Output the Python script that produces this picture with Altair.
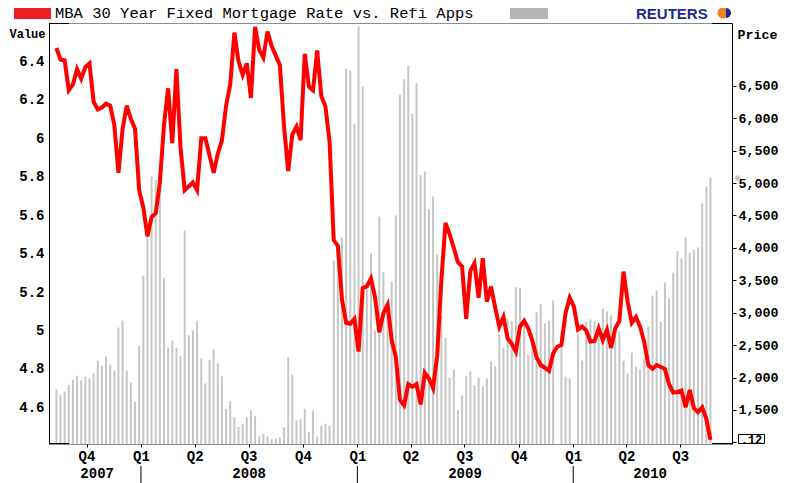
import altair as alt
import pandas as pd

# ---------------- data ----------------
first_week = "2007-08-11"

refi_apps = [
    1819, 1736, 1783, 1886, 1968, 2029, 1958, 2014, 1984, 2060,
    2261, 2184, 2323, 2199, 2106, 2770, 2878, 2106, 1921, 1628,
    2492, 3572, 4200, 5100, 5049, 4900, 3541, 2461, 2569, 2461,
    2338, 4266, 2652, 2724, 2878, 2292, 1911, 2276, 2430, 2220,
    2020, 1515, 1634, 1387, 1238, 1279, 1387, 1500, 1402, 1094,
    1134, 1094, 1048, 1057, 1078, 1233, 2307, 2045, 1341, 1356,
    1520, 1161, 1489, 1089, 1258, 1289, 1258, 3804, 4050, 4159,
    6767, 6736, 5908, 7415, 6489, 3430, 3918, 2724, 4483, 3624,
    3100, 3480, 4498, 6366, 6602, 6813, 6072, 6540, 5121, 5177,
    4596, 4792, 3902, 2955, 2616, 1999, 2127, 1495, 1726, 2019,
    2096, 1881, 1999, 1865, 1988, 2251, 2174, 2668, 2462, 2899,
    2873, 3393, 3378, 2850, 2359, 2680, 3005, 3131, 2837, 2880,
    3190, None, 2700, 2015, 1985, None, 2668, 2261, 2865, 2897,
    2870, 2850, 3063, 3020, 2958, 2750, 2709, 2261, 2061, 2385,
    2168, 2125, 2300, 2788, 3262, 3342, 2863, 3465, 3218, 3619,
    3948, 3835, 4159, 3928, 3974, 4005, 4689, 4946, 5085,
]

mortgage_rate = [
    6.47, 6.41, 6.405, 6.25, 6.28, 6.36, 6.31, 6.37, 6.39, 6.19,
    6.15, 6.16, 6.18, 6.17, 6.07, 5.82, 6.05, 6.17, 6.10, 6.05,
    5.73, 5.64, 5.49, 5.59, 5.61, 5.77, 6.07, 6.26, 5.975, 6.36,
    5.95, 5.73, 5.75, 5.77, 5.73, 6.0, 6.0, 5.91, 5.82, 5.92,
    5.99, 6.17, 6.28, 6.55, 6.40, 6.33, 6.39, 6.21, 6.58, 6.46,
    6.42, 6.556, 6.48, 6.43, 6.38, 6.06, 5.83, 6.02, 6.06, 5.99,
    6.44, 6.27, 6.25, 6.457, 6.22, 6.165, 5.98, 5.47, 5.44, 5.16,
    5.04, 5.035, 5.06, 4.89, 5.22, 5.23, 5.27, 5.17, 4.99, 5.09,
    5.133, 4.95, 4.86, 4.638, 4.61, 4.72, 4.707, 4.72, 4.615, 4.78,
    4.75, 4.70, 4.87, 5.26, 5.56, 5.50, 5.43, 5.355, 5.333, 5.06,
    5.31, 5.35, 5.17, 5.376, 5.15, 5.228, 5.12, 5.02, 5.07, 4.96,
    4.93, 4.89, 5.02, 5.05, 5.01, 4.945, 4.86, 4.82, 4.806, 4.79,
    4.88, 4.915, 4.925, 5.09, 5.17, 5.125, 5.005, 5.02, 5.0, 4.942,
    4.945, 5.01, 4.95, 5.003, 4.91, 5.01, 5.05, 5.306, 5.15, 5.04,
    5.07, 5.02, 4.94, 4.82, 4.80, 4.82, 4.81, 4.80, 4.72, 4.677,
    4.68, 4.687, 4.60, 4.69, 4.595, 4.575, 4.60, 4.54, 4.43,
]

rate_ticks = [4.6, 4.8, 5.0, 5.2, 5.4, 5.6, 5.8, 6.0, 6.2, 6.4]
refi_ticks = [1000, 1500, 2000, 2500, 3000, 3500, 4000, 4500, 5000, 5500, 6000, 6500]

year_labels = ["2007", "2008", "2009", "2010"]
year_label_dates = ["2007-10-19", "2008-07-02", "2009-07-02", "2010-05-11"]
year_starts = ["2008-01-01", "2009-01-01", "2010-01-01"]

title_text = "MBA 30 Year Fixed Mortgage Rate vs. Refi Apps"
last_flag = ".12"

# ---------------- tables ----------------
weeks = pd.date_range(first_week, periods=len(refi_apps), freq="7D")
bars_df = pd.DataFrame({"date": weeks, "refi": refi_apps}).dropna()
line_df = pd.DataFrame({"date": weeks, "rate": mortgage_rate})
years_df = pd.DataFrame({"date": pd.to_datetime(year_label_dates), "label": year_labels})
seps_df = pd.DataFrame({"date": pd.to_datetime(year_starts)})
one = pd.DataFrame({"k": [0]})

W, H = 683, 421
MONO = "Liberation Mono"

xscale = alt.Scale(domain=[alt.DateTime(year=2007, month=8, date=7),
                           alt.DateTime(year=2010, month=9, date=18)])
quarter_values = [alt.DateTime(year=y, month=m, date=1)
                  for (y, m) in [(2007, 10), (2008, 1), (2008, 4), (2008, 7), (2008, 10),
                                 (2009, 1), (2009, 4), (2009, 7), (2009, 10),
                                 (2010, 1), (2010, 4), (2010, 7)]]
xaxis = alt.Axis(values=quarter_values,
                 labelExpr="'Q' + (floor(month(datum.value) / 3) + 1)",
                 labelFont=MONO, labelFontWeight="bold", labelFontSize=14,
                 labelColor="black", labelPadding=2, labelFlush=False,
                 tickSize=3, tickColor="black", domain=False, grid=False,
                 title=None)

X = alt.X("date:T", scale=xscale, axis=xaxis, title=None)

bars = alt.Chart(bars_df).mark_bar(color="#c6c6c6", size=2, clip=True).encode(
    x=X,
    y=alt.Y("refi:Q",
            scale=alt.Scale(domain=[975, 7468], nice=False, zero=False),
            axis=alt.Axis(orient="right", values=refi_ticks,
                          labelExpr="datum.value == 1000 ? '' : format(datum.value, ',')",
                          labelFont=MONO, labelFontWeight="bold", labelFontSize=13.3,
                          labelColor="black", labelPadding=2,
                          tickSize=4, tickColor="black",
                          domainColor="black", grid=False,
                          title="Price", titleAngle=0, titleAlign="left",
                          titleBaseline="alphabetic", titleX=5, titleY=15,
                          titleFont=MONO, titleFontWeight="bold", titleFontSize=13.3,
                          titleColor="black")),
)

line = alt.Chart(line_df).mark_line(color="#ff0000", strokeWidth=4, clip=True).encode(
    x=X,
    y=alt.Y("rate:Q",
            scale=alt.Scale(domain=[4.409, 6.60], nice=False, zero=False),
            axis=alt.Axis(orient="left", values=rate_ticks, format="~g",
                          labelFont=MONO, labelFontWeight="bold", labelFontSize=14,
                          labelColor="black", labelPadding=5,
                          ticks=False, tickSize=0,
                          domainColor="black", grid=False,
                          title="Value", titleAngle=0, titleAlign="right",
                          titleBaseline="alphabetic", titleX=-4, titleY=14,
                          titleFont=MONO, titleFontWeight="bold", titleFontSize=12,
                          titleColor="black")),
)

years = alt.Chart(years_df).mark_text(font=MONO, fontWeight="bold", fontSize=14,
                                      baseline="alphabetic", color="black").encode(
    x=X, y=alt.value(H + 34), text="label:N")

seps = alt.Chart(seps_df).mark_rule(color="black", strokeWidth=1).encode(
    x=X, y=alt.value(H + 22), y2=alt.value(H + 39))

base = alt.Chart(one)

corners = alt.layer(
    base.mark_rule(color="black").encode(x=alt.value(0), x2=alt.value(20), y=alt.value(0.5)),
    base.mark_rule(color="black").encode(x=alt.value(0), x2=alt.value(20), y=alt.value(H - 0.5)),
    base.mark_rule(color="black").encode(x=alt.value(W - 20), x2=alt.value(W), y=alt.value(0.5)),
    base.mark_rule(color="black").encode(x=alt.value(W - 20), x2=alt.value(W), y=alt.value(H - 0.5)),
)

header = alt.layer(
    base.mark_rect(color="#ee1c24").encode(x=alt.value(-35), x2=alt.value(2),
                                            y=alt.value(-15), y2=alt.value(-4)),
    base.mark_text(text=title_text, font=MONO, fontSize=15.5, align="left",
                   baseline="alphabetic", color="black").encode(x=alt.value(6), y=alt.value(-5)),
    base.mark_rect(color="#b4b4b4").encode(x=alt.value(461), x2=alt.value(499),
                                            y=alt.value(-15), y2=alt.value(-4)),
    base.mark_text(text="REUTERS", font="Liberation Sans", fontWeight="bold", fontSize=15,
                   align="left", baseline="alphabetic", color="#1c2b8e").encode(
        x=alt.value(587), y=alt.value(-4.5)),
    base.mark_point(shape="circle", filled=True, color="#f08020", size=120, opacity=1).encode(
        x=alt.value(674), y=alt.value(-10)),
    base.mark_point(shape="M 0 -1 A 1 1 0 0 1 0 1 Z", filled=True, color="#1c2b8e",
                    size=100, opacity=1).encode(x=alt.value(677), y=alt.value(-10)),
)

flag = alt.layer(
    base.mark_point(shape="diamond", filled=True, color="#c8c8c8", size=45, opacity=1).encode(
        x=alt.value(W + 5.5), y=alt.value(155)),
    base.mark_rect(fill="white", stroke="black", strokeWidth=1).encode(
        x=alt.value(W + 6.5), x2=alt.value(W + 32.5), y=alt.value(411.5), y2=alt.value(420.5)),
    base.mark_text(text=last_flag, font=MONO, fontWeight="bold", fontSize=12,
                   align="center", baseline="middle", color="black").encode(
        x=alt.value(W + 19.5), y=alt.value(416.5)),
)

chart = alt.layer(bars, line, years, seps, corners, header, flag).resolve_scale(
    y="independent"
).properties(
    width=W, height=H,
    padding={"left": 41, "top": 15, "right": 64, "bottom": 39},
    autosize=alt.AutoSizeParams(type="none"),
    background="white",
).configure_view(stroke="#8c8c9c", strokeWidth=1)

chart.save("out.html", embed_options={"renderer": "svg", "actions": False})
